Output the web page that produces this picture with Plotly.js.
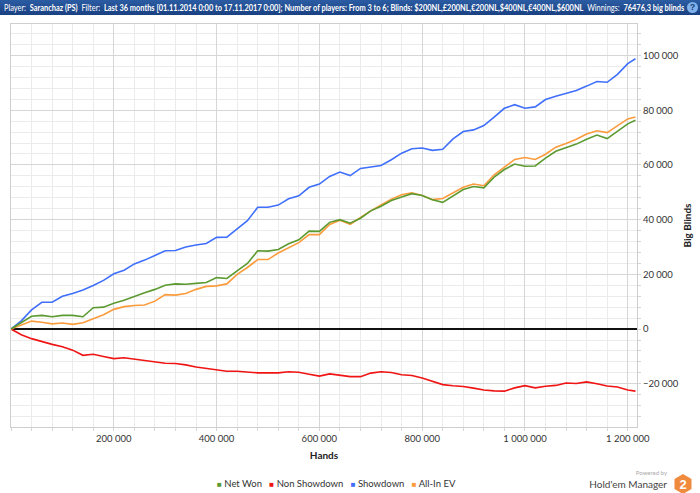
<!DOCTYPE html>
<html>
<head>
<meta charset="utf-8">
<script src="https://cdn.plot.ly/plotly-3.0.1.min.js"></script>
<style>
  html, body { margin:0; padding:0; background:#fff; }
  #wrap { position:relative; width:700px; height:493px; overflow:hidden; }
  #chart { position:absolute; left:0; top:0; width:700px; height:493px; }
  #hdr { position:absolute; left:0; top:0; width:700px; height:15px; background:linear-gradient(#2b5ca3,#1a4182);
         color:#fff; font-family:Lato,"Liberation Sans",Arial,sans-serif; font-size:9px;
         line-height:15px; white-space:nowrap; overflow:hidden; }
  #hdr .t { position:absolute; left:4px; top:0; white-space:nowrap; transform-origin:0 50%; }
  #hdr b { font-weight:bold; }
  #hdr .q { position:absolute; left:687px; top:2px; width:11px; height:11px; border-radius:50%; background:#7fb2ea;
            color:#1a3f7d; font-weight:bold; font-size:9px; line-height:11px; text-align:center; font-family:"Liberation Sans",Arial,sans-serif; }
  #logo { position:absolute; left:590px; top:466px; width:110px; height:27px; font-family:Lato,"Liberation Sans",Arial,sans-serif; }
  #logo .pb { position:absolute; right:33px; top:3px; font-size:6px; color:#aaa; }
  #logo .hm { position:absolute; right:33px; top:12px; font-size:10px; color:#444; white-space:nowrap; }
</style>
</head>
<body>
<div id="wrap">
  <div id="chart"></div>
  <div id="hdr">
    <div class="t" id="hdrText">Player:&nbsp; <b>Saranchaz (PS)</b>&nbsp; Filter:&nbsp; <b>Last 36 months [01.11.2014 0:00 to 17.11.2017 0:00]; Number of players: From 3 to 6; Blinds: $200NL,£200NL,€200NL,$400NL,€400NL,$600NL</b>&nbsp; Winnings:&nbsp; <b>76476,3 big blinds</b></div>
    <div class="q">?</div>
  </div>
  <div id="logo">
    <div class="pb">Powered by</div>
    <div class="hm">Hold'em Manager</div>
    <svg style="position:absolute; left:84px; top:8px;" width="18" height="20" viewBox="0 0 18 20">
      <polygon points="9,0 17.5,5 17.5,15 9,20 0.5,15 0.5,5" fill="#f08a3c"/>
      <text x="9" y="15" text-anchor="middle" font-family="Liberation Sans, Arial, sans-serif" font-weight="bold" font-size="13" fill="#fff">2</text>
    </svg>
  </div>
</div>
<script>
// fit header text into the bar
(function(){
  const el = document.getElementById("hdrText");
  const w = el.scrollWidth;
  const avail = 680;
  if (w > avail) el.style.transform = "scaleX(" + (avail / w).toFixed(4) + ")";
})();

// Hands (x values)
const hands = [0,20000,40000,60000,80000,100000,120000,140000,160000,180000,
  200000,220000,240000,260000,280000,300000,320000,340000,360000,380000,
  400000,420000,440000,460000,480000,500000,520000,540000,560000,580000,
  600000,620000,640000,660000,680000,700000,720000,740000,760000,780000,
  800000,820000,840000,860000,880000,900000,920000,940000,960000,980000,
  1000000,1020000,1040000,1060000,1080000,1100000,1120000,1140000,1160000,1180000,
  1200000,1215000];

// Big blinds per series
const netWon = [0,2200,4700,5000,4500,5000,5000,4500,7800,8000,
  9400,10500,12000,13300,14500,16000,16500,16400,16700,17000,
  18800,18500,21300,24000,28600,28500,29100,31200,32600,35800,
  35700,39000,40000,38700,40500,43200,44900,47000,48300,49500,
  48800,47300,46300,48700,51000,52100,51600,55500,58300,60300,
  59500,59600,62500,65000,66300,67600,69400,70900,69600,72300,
  75000,76300];

const nonShowdown = [0,-2100,-3500,-4600,-5600,-6500,-7700,-9600,-9200,-10000,
  -10800,-10500,-11000,-11500,-12000,-12500,-12600,-13100,-13900,-14400,
  -15000,-15400,-15400,-15700,-16000,-16000,-16000,-15600,-15800,-16500,
  -17200,-16400,-16800,-17400,-17400,-16100,-15600,-15900,-16700,-17000,
  -17900,-19100,-20300,-20700,-21000,-21600,-22300,-22600,-22700,-21500,
  -20700,-21500,-20900,-20600,-19700,-19900,-19300,-20000,-20800,-21200,
  -22300,-22700];

const showdown = [0,3000,7000,9800,9800,12000,13000,14300,15900,17800,
  20200,21500,23800,25200,26900,28600,28700,30000,30700,31300,
  33500,33600,36600,39600,44500,44500,45300,47600,48700,51800,
  53000,55800,57400,56100,58700,59200,59800,61900,64300,65900,
  66200,65300,65700,69500,72200,72800,74400,77500,80700,82000,
  80700,81200,83900,85100,86200,87200,88800,90500,90200,93100,
  97000,98800];

const allInEV = [0,1500,2900,2500,1900,2200,1700,2300,3800,5200,
  7200,8200,8600,8800,10200,12600,12400,13000,14500,15600,
  15800,16500,20000,22500,25400,25400,27800,29800,31600,34500,
  34500,38200,39800,38300,40800,43200,45400,47500,49100,49800,
  48800,47300,47700,49800,51800,53000,52400,56400,59300,62000,
  62700,62000,63900,66500,67800,69400,71300,72500,71800,74400,
  76800,77500];

const seriesNames = ["Net Won","Non Showdown","Showdown","All-In EV"];
const seriesColors = ["#5b9a30","#f01414","#3f6ffb","#fb9b3c"];
const seriesValues = [netWon, nonShowdown, showdown, allInEV];
const xTickVals = [200000,400000,600000,800000,1000000,1200000];

const font = "Lato, Liberation Sans, Arial, sans-serif";
const traces = [];
// draw order: Showdown, Non Showdown, All-In EV, Net Won
[2,1,3,0].forEach(i => {
  traces.push({type:"scatter", mode:"lines", x:hands, y:seriesValues[i], name:seriesNames[i],
    line:{color:seriesColors[i], width:1.6}, showlegend:false, hoverinfo:"skip"});
});

// compact legend built from the series names and colours
const legendText = seriesNames.map((n, i) =>
  '<span style="color:' + seriesColors[i] + ';font-size:8px">■</span> ' + n).join('&nbsp;&nbsp;&nbsp;');

const layout = {
  width:700, height:493,
  margin:{l:11, r:63, t:24, b:66, autoexpand:false},
  paper_bgcolor:"#fff", plot_bgcolor:"#fff",
  separators:", ",
  font:{family:font, size:10, color:"#333"},
  showlegend:false,
  xaxis:{
    range:[0,1218000], tickmode:"array", tickvals:xTickVals, tickformat:",d",
    showgrid:true, gridcolor:"#d6d6d6", gridwidth:1,
    minor:{dtick:40000, tick0:0, showgrid:true, gridcolor:"#ebebeb", ticks:"outside", ticklen:3, tickcolor:"#d6d6d6"},
    ticks:"outside", ticklen:3, tickcolor:"#d6d6d6",
    showline:true, linecolor:"#cfcfcf", mirror:true, zeroline:false, automargin:false,
    tickfont:{family:font, size:9.5, color:"#333"},
    title:{text:"<b>Hands</b>", font:{family:font, size:10, color:"#222"}, standoff:8}
  },
  yaxis:{
    side:"right", range:[-35800,111500], dtick:20000, tick0:0, tickformat:",d",
    showgrid:true, gridcolor:"#d6d6d6", gridwidth:1,
    minor:{dtick:4000, tick0:0, showgrid:true, gridcolor:"#ebebeb", ticks:"outside", ticklen:3, tickcolor:"#d6d6d6"},
    ticks:"outside", ticklen:3, tickcolor:"#d6d6d6",
    showline:true, linecolor:"#cfcfcf", mirror:true, automargin:false,
    zeroline:true, zerolinecolor:"#111", zerolinewidth:2,
    tickfont:{family:font, size:9.5, color:"#333"},
    title:{text:"<b>Big Blinds</b>", font:{family:font, size:10, color:"#222"}, standoff:6}
  },
  annotations:[{
    text:legendText, xref:"paper", yref:"paper", x:0.52, y:-0.139, xanchor:"center", yanchor:"middle",
    showarrow:false, font:{family:font, size:9.5, color:"#333"}
  }]
};

Plotly.newPlot("chart", traces, layout, {displayModeBar:false, staticPlot:true});
</script>
</body>
</html>
